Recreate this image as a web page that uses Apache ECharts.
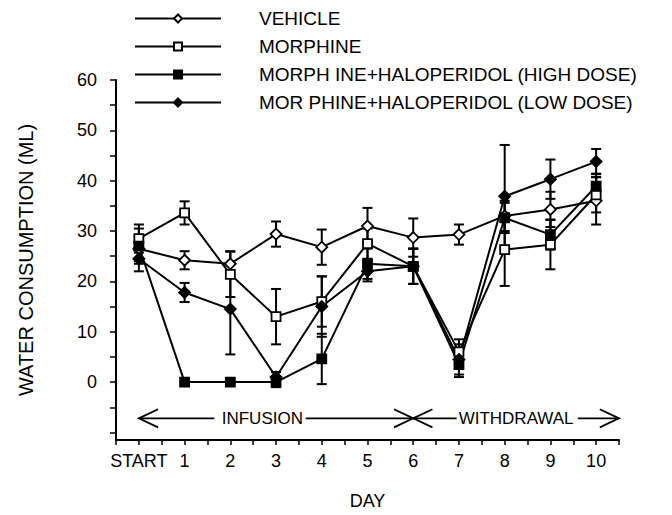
<!DOCTYPE html>
<html><head><meta charset="utf-8">
<script src="https://cdn.jsdelivr.net/npm/echarts@6/dist/echarts.min.js"></script>
<style>html,body{margin:0;padding:0;background:#fff}#c{width:672px;height:515px}</style>
</head><body><div id="c"></div>
<script>
// ---- data ----
const days = [0, 1, 2, 3, 4, 5, 6, 7, 8, 9, 10];
const dayLabels = ['START', '1', '2', '3', '4', '5', '6', '7', '8', '9', '10'];
const yLabelValues = [0, 10, 20, 30, 40, 50, 60];
const yTickValues = [-10, -5, 0, 5, 10, 15, 20, 25, 30, 35, 40, 45, 50, 55, 60];

const seriesNames = ['VEHICLE', 'MORPHINE', 'MORPH INE+HALOPERIDOL (HIGH DOSE)', 'MOR PHINE+HALOPERIDOL (LOW DOSE)'];
const vehicle     = [26.5, 24.2, 23.5, 29.4, 26.8, 31.0, 28.7, 29.3, 33.0, 34.3, 36.0];
const vehicleErr  = [2.5, 1.8, 2.5, 2.5, 3.5, 3.6, 3.8, 2.0, 3.0, 3.5, 4.7];
const morphine    = [28.5, 33.6, 21.4, 13.0, 16.0, 27.5, 23.0, 6.0, 26.3, 27.3, 37.2];
const morphineErr = [2.8, 2.3, 4.5, 5.5, 5.0, 3.0, 3.5, 2.5, 7.2, 4.9, 3.5];
const highDose    = [27.0, 0, 0, 0, 4.6, 23.5, 23.0, 3.5, 32.6, 29.3, 38.9];
const highDoseErr = [3.5, 0, 0, 1.0, 5.0, 3.0, 3.5, 2.5, 3.0, 3.0, 2.5];
const lowDose     = [24.5, 17.8, 14.5, 1.0, 15.0, 22.0, 23.0, 4.5, 36.9, 40.3, 43.8];
const lowDoseErr  = [2.5, 1.9, 9.0, 1.0, 6.0, 2.0, 3.5, 3.0, 10.2, 3.9, 2.5];

// phase annotations (in data units)
const arrowY = -7.2;
const phaseTexts = [{text: 'INFUSION', x: 2.7}, {text: 'WITHDRAWAL', x: 8.25}];
const phaseLines = [[0, 1.65], [3.65, 6], [6, 6.95], [9.6, 10.5]];
const arrowHeads = [{x: 0, dir: -1}, {x: 6, dir: 1}, {x: 6, dir: -1}, {x: 10.5, dir: 1}];

// ---- chart ----
const FONT = '"Liberation Sans", Arial, Helvetica, sans-serif';
const chart = echarts.init(document.getElementById('c'), null, {renderer: 'svg'});

function lineSeries(name, vals, symbol, filled) {
  return {
    type: 'line', name: name,
    data: days.map((d, i) => [d, vals[i]]),
    symbol: symbol, symbolSize: symbol === 'diamond' ? 11 : 9,
    lineStyle: {color: '#000', width: 2},
    itemStyle: {color: filled ? '#000' : '#fff', borderColor: '#000', borderWidth: 1.8},
    emphasis: {disabled: true},
    z: 5, animation: false
  };
}
function errSeries(vals, errs) {
  return {
    type: 'custom', silent: true, z: 3, animation: false,
    data: days.map((d, i) => [d, vals[i], errs[i]]),
    renderItem: function (params, api) {
      const x = api.value(0), y = api.value(1), e = api.value(2);
      if (!e) return;
      const t = api.coord([x, y + e]), b = api.coord([x, y - e]);
      const hw = 5, st = {stroke: '#000', lineWidth: 2};
      return {type: 'group', children: [
        {type: 'line', shape: {x1: t[0], y1: t[1], x2: b[0], y2: b[1]}, style: st},
        {type: 'line', shape: {x1: t[0] - hw, y1: t[1], x2: t[0] + hw, y2: t[1]}, style: st},
        {type: 'line', shape: {x1: b[0] - hw, y1: b[1], x2: b[0] + hw, y2: b[1]}, style: st}
      ]};
    }
  };
}
const annotSeries = {
  type: 'custom', silent: true, z: 4, animation: false,
  data: [[0, 0]],
  renderItem: function (params, api) {
    const ch = [];
    const st = {stroke: '#000', lineWidth: 1.8, fill: null};
    phaseLines.forEach(function (seg) {
      const a = api.coord([seg[0], arrowY]), b = api.coord([seg[1], arrowY]);
      ch.push({type: 'line', shape: {x1: a[0], y1: a[1], x2: b[0], y2: b[1]}, style: st});
    });
    arrowHeads.forEach(function (h) {
      const tip = api.coord([h.x, arrowY]);
      const up = api.coord([h.x - h.dir * 0.42, arrowY + 1.8]);
      const dn = api.coord([h.x - h.dir * 0.42, arrowY - 1.8]);
      ch.push({type: 'polyline', shape: {points: [up, tip, dn]}, style: st});
    });
    phaseTexts.forEach(function (p) {
      const c = api.coord([p.x, arrowY]);
      ch.push({type: 'text', x: c[0], y: c[1], style: {text: p.text, fill: '#000', font: '17px ' + FONT, align: 'center', verticalAlign: 'middle'}});
    });
    return {type: 'group', children: ch};
  }
};

chart.setOption({
  animation: false,
  backgroundColor: '#fff',
  textStyle: {fontFamily: FONT, color: '#000'},
  grid: {left: 116, right: 53, top: 80, bottom: 74, containLabel: false},
  legend: {
    orient: 'vertical', left: 134, top: 9, padding: 0,
    itemWidth: 86, itemHeight: 10, itemGap: 9,
    data: seriesNames,
    textStyle: {fontSize: 19, color: '#000', fontFamily: FONT, padding: [0, 0, 0, 33], lineHeight: 18},
    selectedMode: false
  },
  xAxis: {
    type: 'value', min: -0.5, max: 10.5, interval: 0.5,
    name: 'DAY', nameLocation: 'middle', nameGap: 52,
    nameTextStyle: {fontSize: 18, color: '#000', fontFamily: FONT},
    axisLine: {onZero: false, lineStyle: {color: '#000', width: 2}},
    axisTick: {show: true, inside: false, length: 5, lineStyle: {color: '#000', width: 1.5}},
    axisLabel: {color: '#000', fontSize: 18, fontFamily: FONT, margin: 12, showMinLabel: true, showMaxLabel: true,
      formatter: function (v) { const r = Math.round(v); return Math.abs(v - r) < 1e-6 && r >= 0 && r < dayLabels.length ? dayLabels[r] : ''; }},
    splitLine: {show: false}
  },
  yAxis: {
    type: 'value', min: -11.5, max: 60,
    name: 'WATER CONSUMPTION (ML)', nameLocation: 'middle', nameGap: 80,
    nameTextStyle: {fontSize: 20, color: '#000', fontFamily: FONT},
    axisLine: {show: true, onZero: false, lineStyle: {color: '#000', width: 2}},
    axisTick: {show: true, length: 6, customValues: yTickValues, lineStyle: {color: '#000', width: 1.5}},
    axisLabel: {color: '#000', fontSize: 18, fontFamily: FONT, margin: 19, customValues: yLabelValues},
    splitLine: {show: false}
  },
  series: [
    errSeries(vehicle, vehicleErr),
    errSeries(morphine, morphineErr),
    errSeries(highDose, highDoseErr),
    errSeries(lowDose, lowDoseErr),
    annotSeries,
    lineSeries(seriesNames[0], vehicle, 'diamond', false),
    lineSeries(seriesNames[1], morphine, 'rect', false),
    lineSeries(seriesNames[2], highDose, 'rect', true),
    lineSeries(seriesNames[3], lowDose, 'diamond', true)
  ]
});
</script></body></html>
